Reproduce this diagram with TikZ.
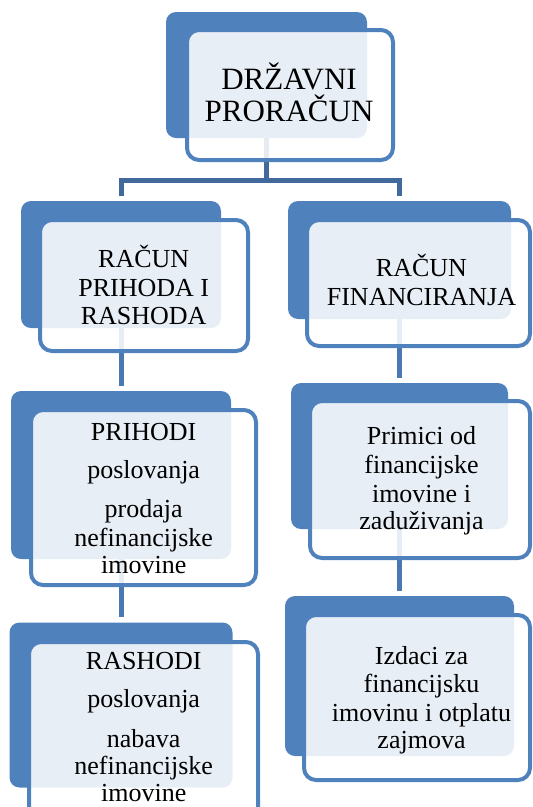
\documentclass[tikz,border=0pt]{standalone}
\usepackage{fontspec}
\setmainfont{Liberation Serif}
\definecolor{boxblue}{HTML}{4F81BD}
\definecolor{connblue}{HTML}{4A78B0}
\definecolor{topblue}{HTML}{41699B}
\begin{document}
\begin{tikzpicture}[x=1pt,y=-1pt,
  backbox/.style={rectangle, fill=boxblue, rounded corners=10pt, inner sep=0pt},
  frontbox/.style={rectangle, draw=boxblue, line width=4pt, fill=white, fill opacity=0.87, draw opacity=1, rounded corners=12pt, inner sep=0pt},
  conn/.style={draw=connblue, line width=5pt, shorten >=5pt},
  topconn/.style={draw=topblue, line width=5pt},
  lvlone/.style={anchor=base, inner sep=0pt, font=\fontsize{31}{33}\selectfont},
  lvltwo/.style={anchor=base, inner sep=0pt, font=\fontsize{26}{28}\selectfont}]
\useasboundingbox (0,0) rectangle (533,807);
% back boxes
\node[backbox, minimum width=201pt, minimum height=126pt] (b0) at (266.5,75) {};
\node[backbox, minimum width=200pt, minimum height=127pt] (b1) at (121,264.5) {};
\node[backbox, minimum width=223pt, minimum height=118pt] (b2) at (399.5,260) {};
\node[backbox, minimum width=220pt, minimum height=168pt] (b3) at (121,475) {};
\node[backbox, minimum width=223pt, minimum height=165pt] (b4) at (121,705) {};
\node[backbox, minimum width=217pt, minimum height=146pt] (b5) at (399.5,456) {};
\node[backbox, minimum width=229pt, minimum height=160pt] (b6) at (399.5,676) {};
% connectors
\coordinate (fork) at (266.5,180);
\draw[topconn] (b0.south) -- (fork);
\draw[topconn, shorten <=5pt, shorten >=5pt] (b1.north) |- (fork) -| (b2.north);
\draw[conn] (b1.south) -- (b3.north);
\draw[conn] (b3.south) -- (b4.north);
\draw[conn] (b2.south) -- (b5.north);
\draw[conn] (b5.south) -- (b6.north);
% front boxes
\node[frontbox, minimum width=206pt, minimum height=130pt] (f0) at (290,95) {};
\node[frontbox, minimum width=208pt, minimum height=131pt] (f1) at (144,285.5) {};
\node[frontbox, minimum width=223pt, minimum height=126pt] (f2) at (418.5,283) {};
\node[frontbox, minimum width=225pt, minimum height=175pt] (f3) at (143.5,497.5) {};
\node[frontbox, minimum width=229pt, minimum height=188pt] (f4) at (143.5,736) {};
\node[frontbox, minimum width=220pt, minimum height=157pt] (f5) at (420,479.5) {};
\node[frontbox, minimum width=226pt, minimum height=165pt] (f6) at (417,697.5) {};
% texts
\node[lvlone] (t0a) at (289,89.3) {DRŽAVNI};
\node[lvlone] (t0b) at (289,121.7) {PRORAČUN};
\node[lvltwo] (t1a) at (143.7,267.6) {RAČUN};
\node[lvltwo] (t1b) at (143.7,296) {PRIHODA I};
\node[lvltwo] (t1c) at (143.7,324) {RASHODA};
\node[lvltwo] (t2a) at (421.5,276.7) {RAČUN};
\node[lvltwo] (t2b) at (421.5,305) {FINANCIRANJA};
\node[lvltwo] (t3a) at (143.7,440.5) {PRIHODI};
\node[lvltwo] (t3b) at (143.7,478.6) {poslovanja};
\node[lvltwo] (t3c) at (143.7,517.8) {prodaja};
\node[lvltwo] (t3d) at (143.7,546.7) {nefinancijske};
\node[lvltwo] (t3e) at (143.7,573.9) {imovine};
\node[lvltwo] (t4a) at (143.7,669.5) {RASHODI};
\node[lvltwo] (t4b) at (143.7,707) {poslovanja};
\node[lvltwo] (t4c) at (143.7,747) {nabava};
\node[lvltwo] (t4d) at (143.7,774.5) {nefinancijske};
\node[lvltwo] (t4e) at (143.7,801.5) {imovine};
\node[lvltwo] (t5a) at (421.5,444.6) {Primici od};
\node[lvltwo] (t5b) at (421.5,473.5) {financijske};
\node[lvltwo] (t5c) at (421.5,502.4) {imovine i};
\node[lvltwo] (t5d) at (421.5,529.7) {zaduživanja};
\node[lvltwo] (t6a) at (421.5,664) {Izdaci za};
\node[lvltwo] (t6b) at (421.5,692.7) {financijsku};
\node[lvltwo] (t6c) at (421.5,721) {imovinu i otplatu};
\node[lvltwo] (t6d) at (421.5,748) {zajmova};
\end{tikzpicture}
\end{document}
